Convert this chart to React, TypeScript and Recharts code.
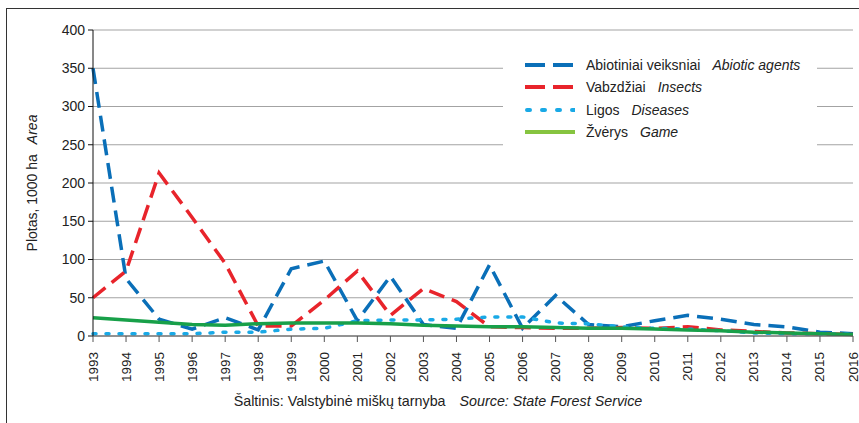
import {
  LineChart,
  Line,
  XAxis,
  YAxis,
  CartesianGrid,
} from 'recharts';

const years = [
  '1993', '1994', '1995', '1996', '1997', '1998', '1999', '2000', '2001', '2002', '2003', '2004',
  '2005', '2006', '2007', '2008', '2009', '2010', '2011', '2012', '2013', '2014', '2015', '2016',
];
const abiotic = [350, 75, 22, 9, 24, 8, 88, 98, 20, 78, 15, 10, 93, 10, 53, 15, 12, 20, 27, 22, 15, 12, 5, 3];
const insects = [50, 85, 213, 155, 95, 13, 13, 47, 85, 27, 62, 45, 12, 11, 10, 10, 11, 10, 12, 8, 6, 4, 3, 2];
const diseases = [3, 3, 3, 3, 5, 5, 9, 10, 20, 21, 21, 22, 25, 25, 17, 16, 12, 10, 9, 7, 4, 3, 3, 2];
const game = [24, 21, 18, 15, 14, 16, 17, 17, 17, 16, 14, 13, 12, 12, 11, 10, 10, 9, 8, 7, 5, 4, 3, 2];
const yTicks = [0, 50, 100, 150, 200, 250, 300, 350, 400];

const series = [
  { key: 'abiotic', lt: 'Abiotiniai veiksniai', en: 'Abiotic agents', color: '#0a6fb8', legendColor: '#0a6fb8', dash: '16 8', legendDash: '20 8', cap: 'butt' },
  { key: 'insects', lt: 'Vabzdžiai', en: 'Insects', color: '#e8242b', legendColor: '#e8242b', dash: '16 8', legendDash: '20 8', cap: 'butt' },
  { key: 'diseases', lt: 'Ligos', en: 'Diseases', color: '#19a9e6', legendColor: '#19a9e6', dash: '3 10', legendDash: '3 12', cap: 'round' },
  { key: 'game', lt: 'Žvėrys', en: 'Game', color: '#18a049', legendColor: '#86c440', dash: undefined, legendDash: undefined, cap: 'butt' },
];

const data = years.map((year, i) => ({
  year,
  abiotic: abiotic[i],
  insects: insects[i],
  diseases: diseases[i],
  game: game[i],
}));

const FONT = '"Liberation Sans", Arial, sans-serif';

const YearTick = (props: any) => {
  const { x, y, payload } = props;
  return (
    <text
      x={x}
      y={y}
      transform={`rotate(-90 ${x} ${y})`}
      textAnchor="end"
      dominantBaseline="central"
      fontSize={13.5}
      fill="#222"
      fontFamily={FONT}
    >
      {payload.value}
    </text>
  );
};

const LegendBox = () => (
  <div
    style={{
      position: 'absolute',
      left: 503,
      top: 46,
      width: 292,
      height: 97,
      background: '#fff',
      padding: '8px 0 0 22px',
      fontFamily: FONT,
      fontSize: 14,
      color: '#222',
    }}
  >
    {series.map((s) => (
      <div key={s.key} style={{ display: 'flex', alignItems: 'center', height: 22.3 }}>
        <svg width={50} height={8} style={{ marginRight: 11 }}>
          <line
            x1={s.cap === 'round' ? 2 : 0}
            y1={4}
            x2={50}
            y2={4}
            stroke={s.legendColor}
            strokeWidth={4}
            strokeDasharray={s.legendDash}
            strokeLinecap={s.cap as any}
          />
        </svg>
        <span>{s.lt}</span>
        <span style={{ fontStyle: 'italic', marginLeft: 12 }}>{s.en}</span>
      </div>
    ))}
  </div>
);

const AxisTitle = (props: any) => {
  const { viewBox } = props;
  const cy = viewBox.y + viewBox.height / 2;
  const cx = 32;
  return (
    <text
      x={cx}
      y={cy}
      transform={`rotate(-90 ${cx} ${cy})`}
      textAnchor="middle"
      dominantBaseline="central"
      fontSize={14}
      fill="#222"
      fontFamily={FONT}
    >
      <tspan>Plotas, 1000 ha</tspan>
      <tspan dx={10} fontStyle="italic">Area</tspan>
    </text>
  );
};

export default function App() {
  return (
    <div style={{ position: 'absolute', left: 0, top: 0, width: 859, height: 423, background: '#fff', overflow: 'hidden' }}>
      <div
        style={{
          position: 'absolute',
          left: 6,
          top: 8,
          width: 900,
          height: 500,
          borderLeft: '1.5px solid #333',
          borderTop: '1.5px solid #333',
        }}
      />
      <LineChart
        width={859}
        height={423}
        data={data}
        margin={{ top: 30, right: 6, bottom: 57, left: 33 }}
        style={{ position: 'absolute', left: 0, top: 0 }}
      >
        <CartesianGrid vertical={false} stroke="#a3a3a3" strokeWidth={1.2} />
        <XAxis
          dataKey="year"
          height={30}
          interval={0}
          tick={<YearTick />}
          tickSize={6}
          tickMargin={10}
          stroke="#555"
          tickLine={{ stroke: '#555' }}
        />
        <YAxis
          width={60}
          domain={[0, 400]}
          ticks={yTicks}
          interval={0}
          tickSize={5}
          tickMargin={3}
          stroke="#111"
          tick={{ fontSize: 14, fill: '#222', fontFamily: FONT }}
          label={<AxisTitle />}
        />
        {series.map((s) => (
          <Line
            key={s.key}
            dataKey={s.key}
            type="linear"
            stroke={s.color}
            strokeWidth={3.5}
            strokeDasharray={s.dash}
            strokeLinecap={s.cap as any}
            dot={false}
            activeDot={false}
            isAnimationActive={false}
          />
        ))}
      </LineChart>
      <LegendBox />
      <div
        style={{
          position: 'absolute',
          left: 0,
          width: 876,
          top: 393,
          textAlign: 'center',
          fontFamily: FONT,
          fontSize: 14.3,
          color: '#222',
          whiteSpace: 'pre',
        }}
      >
        <span>Šaltinis: Valstybinė miškų tarnyba</span>
        <span style={{ fontStyle: 'italic', marginLeft: 14 }}>Source: State Forest Service</span>
      </div>
    </div>
  );
}
